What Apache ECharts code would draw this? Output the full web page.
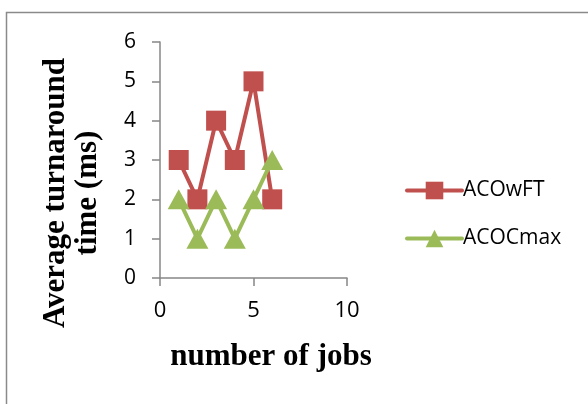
<!DOCTYPE html>
<html>
<head>
<meta charset="utf-8">
<style>
  html, body { margin: 0; padding: 0; background: #ffffff; }
  #chart { width: 588px; height: 404px; }
</style>
<script src="https://cdn.jsdelivr.net/npm/echarts@6/dist/echarts.min.js"></script>
</head>
<body>
<div id="chart"></div>
<script>
// Number of jobs on the x axis
var jobs = [1, 2, 3, 4, 5, 6];
// Average turnaround time (ms) per algorithm
var acowft = [3, 2, 4, 3, 5, 2];
var acocmax = [2, 1, 2, 1, 2, 3];
var seriesNames = ['ACOwFT', 'ACOCmax'];
var xTitle = 'number of jobs';
var yTitle = 'Average turnaround\ntime (ms)';

function pairs(xs, ys) {
  return xs.map(function (x, i) { return [x, ys[i]]; });
}

var chart = echarts.init(document.getElementById('chart'), null, { renderer: 'canvas' });

var axisGray = '#878787';
var tickFont = '"Open Sans", sans-serif';

chart.setOption({
  animation: false,
  backgroundColor: '#ffffff',
  grid: { left: 160, top: 42, width: 187, height: 236, containLabel: false },
  xAxis: {
    type: 'value',
    min: 0, max: 10, interval: 5,
    axisLine: { show: true, lineStyle: { color: axisGray, width: 1.5 } },
    axisTick: { show: true, length: 8, lineStyle: { color: axisGray, width: 1.5 } },
    splitLine: { show: false },
    axisLabel: { color: '#000', fontSize: 22, fontFamily: tickFont, margin: 22 }
  },
  yAxis: {
    type: 'value',
    min: 0, max: 6, interval: 1,
    axisLine: { show: true, lineStyle: { color: axisGray, width: 1.5 } },
    axisTick: { show: true, length: 8, lineStyle: { color: axisGray, width: 1.5 } },
    splitLine: { show: false },
    axisLabel: { color: '#000', fontSize: 21, fontFamily: tickFont, margin: 24 }
  },
  legend: {
    orient: 'vertical',
    left: 400, top: 175,
    itemWidth: 55, itemHeight: 22,
    itemGap: 27,
    lineStyle: { width: 4, cap: 'round' },
    textStyle: { color: '#000', fontSize: 21, fontFamily: tickFont, padding: [0, 0, 0, -4] },
    data: seriesNames
  },
  graphic: [
    {
      type: 'rect',
      shape: { x: 6.5, y: 12.5, width: 700, height: 500 },
      style: { fill: 'none', stroke: '#8a8a8a', lineWidth: 1.5 },
      silent: true
    },
    {
      type: 'text',
      x: 72, y: 193,
      rotation: Math.PI / 2,
      style: {
        text: yTitle,
        font: 'bold 31px "Liberation Serif", "Times New Roman", serif',
        lineHeight: 32,
        fill: '#000',
        align: 'center',
        verticalAlign: 'middle'
      }
    },
    {
      type: 'text',
      x: 271, y: 357,
      style: {
        text: xTitle,
        font: 'bold 31px "Liberation Serif", "Times New Roman", serif',
        fill: '#000',
        align: 'center',
        verticalAlign: 'middle'
      }
    }
  ],
  series: [
    {
      name: seriesNames[0],
      type: 'line',
      data: pairs(jobs, acowft),
      symbol: 'rect',
      symbolSize: 20,
      lineStyle: { color: '#C0504D', width: 4 },
      itemStyle: { color: '#C0504D' },
      z: 2
    },
    {
      name: seriesNames[1],
      type: 'line',
      data: pairs(jobs, acocmax),
      symbol: 'triangle',
      symbolSize: [22, 20],
      lineStyle: { color: '#9BBB59', width: 4 },
      itemStyle: { color: '#9BBB59' },
      z: 3
    }
  ]
});
</script>
</body>
</html>
